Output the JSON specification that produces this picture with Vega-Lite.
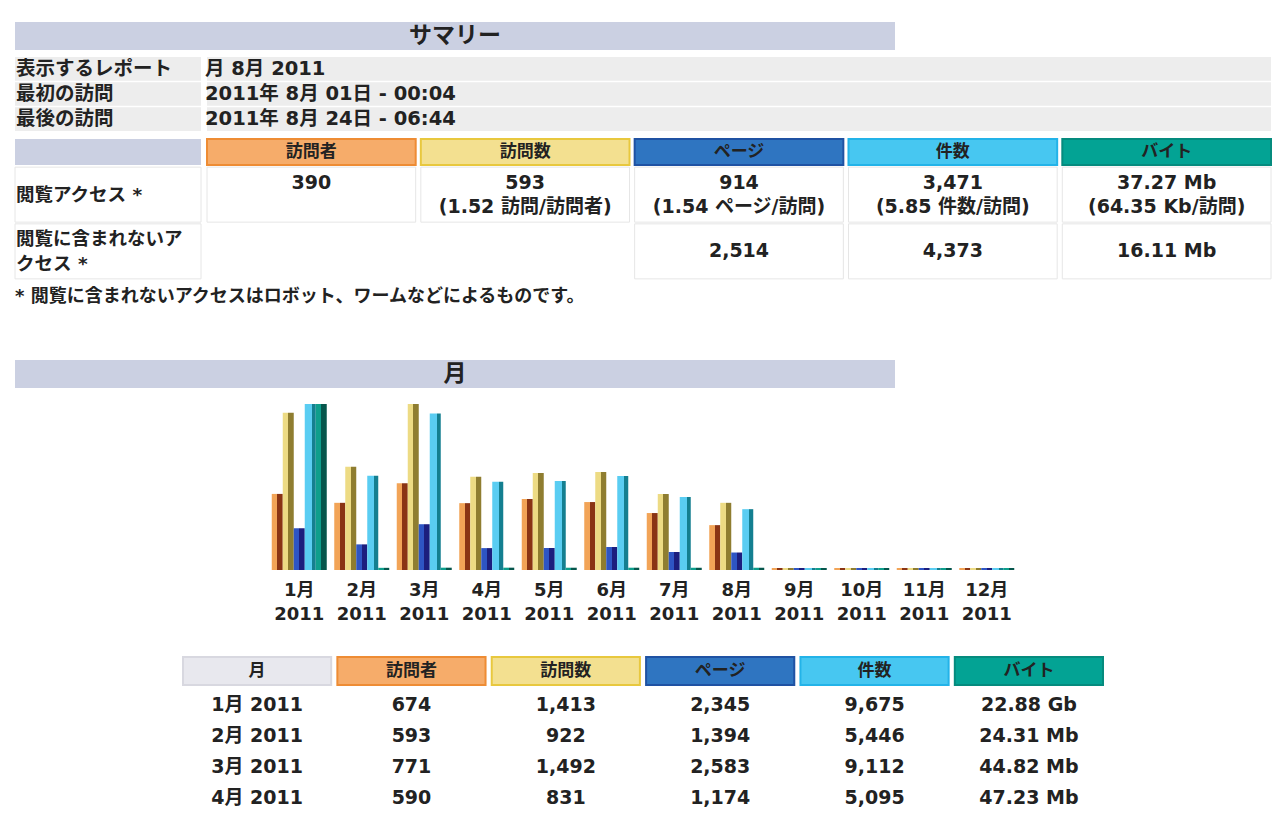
{
  "$schema": "https://vega.github.io/schema/vega-lite/v6.json",
  "background": "white",
  "padding": {"left": 14, "top": 22, "right": 0, "bottom": 0},
  "spacing": 0,
  "resolve": {"scale": {"fill": "independent", "stroke": "independent"}},
  "config": {
    "view": {"stroke": null},
    "font": "DejaVu Sans, Noto Sans CJK JP",
    "text": {"font": "DejaVu Sans, Noto Sans CJK JP", "fontWeight": "bold", "fontSize": 18, "color": "#222222"},
    "concat": {"spacing": 0}
  },
  "datasets": {
    "info": [
      {"r": "r1", "label": "表示するレポート", "value": "月 8月 2011"},
      {"r": "r2", "label": "最初の訪問", "value": "2011年 8月 01日 - 00:04"},
      {"r": "r3", "label": "最後の訪問", "value": "2011年 8月 24日 - 06:44"}
    ],
    "sumcols": [{"col": "訪問者"}, {"col": "訪問数"}, {"col": "ページ"}, {"col": "件数"}, {"col": "バイト"}],
    "sumrows": [
      {"r": "a", "label": "閲覧アクセス *"},
      {"r": "b", "label": "閲覧に含まれないア\nクセス *"}
    ],
    "sumvals": [
      {"r": "a", "col": "訪問者", "t": "390"},
      {"r": "a", "col": "訪問数", "t": "593\n(1.52 訪問/訪問者)"},
      {"r": "a", "col": "ページ", "t": "914\n(1.54 ページ/訪問)"},
      {"r": "a", "col": "件数", "t": "3,471\n(5.85 件数/訪問)"},
      {"r": "a", "col": "バイト", "t": "37.27 Mb\n(64.35 Kb/訪問)"},
      {"r": "b", "col": "ページ", "t": "2,514"},
      {"r": "b", "col": "件数", "t": "4,373"},
      {"r": "b", "col": "バイト", "t": "16.11 Mb"}
    ],
    "monthly": [
      {"m": "1月 2011", "metric": "訪問者", "v": 674}, {"m": "1月 2011", "metric": "訪問数", "v": 1413}, {"m": "1月 2011", "metric": "ページ", "v": 2345}, {"m": "1月 2011", "metric": "件数", "v": 9675}, {"m": "1月 2011", "metric": "バイト", "v": 23429},
      {"m": "2月 2011", "metric": "訪問者", "v": 593}, {"m": "2月 2011", "metric": "訪問数", "v": 922}, {"m": "2月 2011", "metric": "ページ", "v": 1394}, {"m": "2月 2011", "metric": "件数", "v": 5446}, {"m": "2月 2011", "metric": "バイト", "v": 24.31},
      {"m": "3月 2011", "metric": "訪問者", "v": 771}, {"m": "3月 2011", "metric": "訪問数", "v": 1492}, {"m": "3月 2011", "metric": "ページ", "v": 2583}, {"m": "3月 2011", "metric": "件数", "v": 9112}, {"m": "3月 2011", "metric": "バイト", "v": 44.82},
      {"m": "4月 2011", "metric": "訪問者", "v": 590}, {"m": "4月 2011", "metric": "訪問数", "v": 831}, {"m": "4月 2011", "metric": "ページ", "v": 1174}, {"m": "4月 2011", "metric": "件数", "v": 5095}, {"m": "4月 2011", "metric": "バイト", "v": 47.23},
      {"m": "5月 2011", "metric": "訪問者", "v": 628}, {"m": "5月 2011", "metric": "訪問数", "v": 864}, {"m": "5月 2011", "metric": "ページ", "v": 1180}, {"m": "5月 2011", "metric": "件数", "v": 5130}, {"m": "5月 2011", "metric": "バイト", "v": 40.5},
      {"m": "6月 2011", "metric": "訪問者", "v": 600}, {"m": "6月 2011", "metric": "訪問数", "v": 873}, {"m": "6月 2011", "metric": "ページ", "v": 1240}, {"m": "6月 2011", "metric": "件数", "v": 5430}, {"m": "6月 2011", "metric": "バイト", "v": 42.1},
      {"m": "7月 2011", "metric": "訪問者", "v": 500}, {"m": "7月 2011", "metric": "訪問数", "v": 673}, {"m": "7月 2011", "metric": "ページ", "v": 944}, {"m": "7月 2011", "metric": "件数", "v": 4190}, {"m": "7月 2011", "metric": "バイト", "v": 35.6},
      {"m": "8月 2011", "metric": "訪問者", "v": 390}, {"m": "8月 2011", "metric": "訪問数", "v": 593}, {"m": "8月 2011", "metric": "ページ", "v": 914}, {"m": "8月 2011", "metric": "件数", "v": 3471}, {"m": "8月 2011", "metric": "バイト", "v": 37.27},
      {"m": "9月 2011", "metric": "訪問者", "v": 0}, {"m": "9月 2011", "metric": "訪問数", "v": 0}, {"m": "9月 2011", "metric": "ページ", "v": 0}, {"m": "9月 2011", "metric": "件数", "v": 0}, {"m": "9月 2011", "metric": "バイト", "v": 0},
      {"m": "10月 2011", "metric": "訪問者", "v": 0}, {"m": "10月 2011", "metric": "訪問数", "v": 0}, {"m": "10月 2011", "metric": "ページ", "v": 0}, {"m": "10月 2011", "metric": "件数", "v": 0}, {"m": "10月 2011", "metric": "バイト", "v": 0},
      {"m": "11月 2011", "metric": "訪問者", "v": 0}, {"m": "11月 2011", "metric": "訪問数", "v": 0}, {"m": "11月 2011", "metric": "ページ", "v": 0}, {"m": "11月 2011", "metric": "件数", "v": 0}, {"m": "11月 2011", "metric": "バイト", "v": 0},
      {"m": "12月 2011", "metric": "訪問者", "v": 0}, {"m": "12月 2011", "metric": "訪問数", "v": 0}, {"m": "12月 2011", "metric": "ページ", "v": 0}, {"m": "12月 2011", "metric": "件数", "v": 0}, {"m": "12月 2011", "metric": "バイト", "v": 0}
    ],
    "tblcols": [{"col": "月"}, {"col": "訪問者"}, {"col": "訪問数"}, {"col": "ページ"}, {"col": "件数"}, {"col": "バイト"}],
    "tbl": [
      {"m": "1月 2011", "col": "月", "t": "1月 2011"}, {"m": "1月 2011", "col": "訪問者", "t": "674"}, {"m": "1月 2011", "col": "訪問数", "t": "1,413"}, {"m": "1月 2011", "col": "ページ", "t": "2,345"}, {"m": "1月 2011", "col": "件数", "t": "9,675"}, {"m": "1月 2011", "col": "バイト", "t": "22.88 Gb"},
      {"m": "2月 2011", "col": "月", "t": "2月 2011"}, {"m": "2月 2011", "col": "訪問者", "t": "593"}, {"m": "2月 2011", "col": "訪問数", "t": "922"}, {"m": "2月 2011", "col": "ページ", "t": "1,394"}, {"m": "2月 2011", "col": "件数", "t": "5,446"}, {"m": "2月 2011", "col": "バイト", "t": "24.31 Mb"},
      {"m": "3月 2011", "col": "月", "t": "3月 2011"}, {"m": "3月 2011", "col": "訪問者", "t": "771"}, {"m": "3月 2011", "col": "訪問数", "t": "1,492"}, {"m": "3月 2011", "col": "ページ", "t": "2,583"}, {"m": "3月 2011", "col": "件数", "t": "9,112"}, {"m": "3月 2011", "col": "バイト", "t": "44.82 Mb"},
      {"m": "4月 2011", "col": "月", "t": "4月 2011"}, {"m": "4月 2011", "col": "訪問者", "t": "590"}, {"m": "4月 2011", "col": "訪問数", "t": "831"}, {"m": "4月 2011", "col": "ページ", "t": "1,174"}, {"m": "4月 2011", "col": "件数", "t": "5,095"}, {"m": "4月 2011", "col": "バイト", "t": "47.23 Mb"}
    ]
  },
  "vconcat": [
    {
      "width": 880, "height": 28,
      "view": {"fill": "#CBD0E2"},
      "data": {"values": [{"title": "サマリー"}]},
      "mark": {"type": "text", "fontSize": 23},
      "encoding": {"text": {"field": "title"}}
    },
    {
      "bounds": "flush",
      "hconcat": [
        {
          "width": 186, "height": 88,
          "data": {"name": "info"},
          "encoding": {
            "y": {"field": "r", "type": "nominal", "axis": null, "scale": {"type": "band", "domain": ["r1", "r2", "r3"], "paddingInner": 0.06, "paddingOuter": 0.277}}
          },
          "layer": [
            {"mark": {"type": "rect", "color": "#EDEDED"},
             "encoding": {"x": {"datum": 0, "type": "quantitative", "scale": {"domain": [0, 1], "nice": false}, "axis": null}, "x2": {"datum": 1}}},
            {"mark": {"type": "text", "align": "left", "dx": 1, "fontSize": 19.5},
             "encoding": {"x": {"datum": 0, "type": "quantitative", "scale": {"domain": [0, 1], "nice": false}, "axis": null}, "text": {"field": "label"}}}
          ]
        },
        {
          "width": 1064, "height": 88,
          "data": {"name": "info"},
          "encoding": {
            "y": {"field": "r", "type": "nominal", "axis": null, "scale": {"type": "band", "domain": ["r1", "r2", "r3"], "paddingInner": 0.06, "paddingOuter": 0.277}}
          },
          "layer": [
            {"mark": {"type": "rect", "color": "#EDEDED"},
             "encoding": {"x": {"datum": 0, "type": "quantitative", "scale": {"domain": [0, 1], "nice": false}, "axis": null}, "x2": {"datum": 1}}},
            {"mark": {"type": "text", "align": "left", "dx": -2, "fontSize": 19.5},
             "encoding": {"x": {"datum": 0, "type": "quantitative", "scale": {"domain": [0, 1], "nice": false}, "axis": null}, "text": {"field": "value"}}}
          ]
        }
      ],
      "spacing": 6
    },
    {
      "bounds": "flush",
      "hconcat": [
        {
          "width": 186, "height": 26,
          "view": {"fill": "#CBD0E2"},
          "data": {"values": []},
          "mark": "text"
        },
        {
          "width": 1064, "height": 26,
          "data": {"name": "sumcols"},
          "encoding": {
            "x": {"field": "col", "type": "nominal", "axis": null, "scale": {"type": "band", "domain": ["訪問者", "訪問数", "ページ", "件数", "バイト"], "paddingInner": 0.024, "paddingOuter": 0}}
          },
          "layer": [
            {"mark": {"type": "rect", "strokeWidth": 2},
             "encoding": {
               "fill": {"field": "col", "type": "nominal", "legend": null, "scale": {"domain": ["訪問者", "訪問数", "ページ", "件数", "バイト"], "range": ["#F6AC6A", "#F3E090", "#2F75C1", "#47C7F1", "#03A394"]}},
               "stroke": {"field": "col", "type": "nominal", "legend": null, "scale": {"domain": ["訪問者", "訪問数", "ページ", "件数", "バイト"], "range": ["#EE8C34", "#E8C83E", "#1F52A3", "#23B3E8", "#058B7E"]}}
             }},
            {"mark": {"type": "text", "fontSize": 17}, "encoding": {"text": {"field": "col"}}}
          ]
        }
      ],
      "spacing": 6
    },
    {
      "bounds": "flush",
      "hconcat": [
        {
          "width": 186, "height": 114,
          "data": {"name": "sumrows"},
          "encoding": {
            "y": {"field": "r", "type": "nominal", "axis": null, "scale": {"type": "band", "domain": ["a", "b"], "paddingInner": 0.03, "paddingOuter": 0.02}},
            "x": {"datum": 0, "type": "quantitative", "scale": {"domain": [0, 1], "nice": false}, "axis": null}
          },
          "layer": [
            {"mark": {"type": "rect", "fill": "#FFFFFF", "stroke": "#E6E6E6"},
             "encoding": {"x2": {"datum": 1}}},
            {"transform": [{"filter": "datum.r === 'a'"}],
             "mark": {"type": "text", "align": "left", "dx": 1, "fontSize": 18.5},
             "encoding": {"text": {"field": "label"}}},
            {"transform": [{"filter": "datum.r === 'b'"}],
             "mark": {"type": "text", "align": "left", "dx": 1, "dy": -12.5, "lineBreak": "\n", "lineHeight": 25, "fontSize": 18.5},
             "encoding": {"text": {"field": "label"}}}
          ]
        },
        {
          "width": 1064, "height": 114,
          "data": {"name": "sumvals"},
          "encoding": {
            "x": {"field": "col", "type": "nominal", "axis": null, "scale": {"type": "band", "domain": ["訪問者", "訪問数", "ページ", "件数", "バイト"], "paddingInner": 0.024, "paddingOuter": 0}},
            "y": {"field": "r", "type": "nominal", "axis": null, "scale": {"type": "band", "domain": ["a", "b"], "paddingInner": 0.03, "paddingOuter": 0.02}}
          },
          "layer": [
            {"mark": {"type": "rect", "fill": "#FFFFFF", "stroke": "#E6E6E6"}},
            {"transform": [{"filter": "datum.r === 'a'"}],
             "mark": {"type": "text", "dy": -12, "lineBreak": "\n", "lineHeight": 24, "fontSize": 19}, "encoding": {"text": {"field": "t"}}},
            {"transform": [{"filter": "datum.r === 'b'"}],
             "mark": {"type": "text", "fontSize": 19}, "encoding": {"text": {"field": "t"}}}
          ]
        }
      ],
      "spacing": 6
    },
    {
      "bounds": "flush",
      "vconcat": [
        {
          "width": 1256, "height": 34,
          "data": {"values": [{"note": "* 閲覧に含まれないアクセスはロボット、ワームなどによるものです。"}]},
          "mark": {"type": "text", "align": "left", "fontSize": 18},
          "encoding": {
            "x": {"datum": 0, "type": "quantitative", "scale": {"domain": [0, 1], "nice": false}, "axis": null},
            "text": {"field": "note"}
          }
        },
        {
          "width": 880, "height": 28,
          "view": {"fill": "#CBD0E2"},
          "data": {"values": [{"title": "月"}]},
          "mark": {"type": "text", "fontSize": 23},
          "encoding": {"text": {"field": "title"}}
        }
      ],
      "spacing": 46
    },
    {
      "center": true,
      "bounds": "flush",
      "spacing": 0,
      "vconcat": [
        {"width": 1256, "height": 16, "data": {"values": []}, "mark": "text"},
        {
          "width": 750, "height": 164,
          "data": {"name": "monthly"},
          "encoding": {
            "x": {"field": "m", "type": "nominal",
                  "scale": {"domain": ["1月 2011", "2月 2011", "3月 2011", "4月 2011", "5月 2011", "6月 2011", "7月 2011", "8月 2011", "9月 2011", "10月 2011", "11月 2011", "12月 2011"], "paddingInner": 0.12, "paddingOuter": 0.06},
                  "axis": {"title": null, "domain": false, "ticks": false, "labelAngle": 0, "labelFont": "DejaVu Sans, Noto Sans CJK JP", "labelFontSize": 18, "labelFontWeight": "bold", "labelColor": "#222222", "labelPadding": 13, "labelLineHeight": 24, "labelExpr": "split(datum.label, ' ')"}},
            "xOffset": {"field": "metric", "type": "nominal", "scale": {"domain": ["訪問者", "訪問数", "ページ", "件数", "バイト"], "paddingInner": 0, "paddingOuter": 0}},
            "y2": {"datum": 0}
          },
          "layer": [
            {"transform": [{"filter": "datum.metric === '訪問者'"}],
             "mark": {"type": "bar", "y2Offset": 2, "fill": {"gradient": "linear", "x1": 0, "y1": 0, "x2": 1, "y2": 0, "stops": [{"offset": 0, "color": "#F2A457"}, {"offset": 0.5, "color": "#F2A457"}, {"offset": 0.5, "color": "#8A3414"}, {"offset": 1, "color": "#8A3414"}]}},
             "encoding": {"y": {"field": "v", "type": "quantitative", "axis": null, "scale": {"domain": [0, 1492], "nice": false}}}},
            {"transform": [{"filter": "datum.metric === '訪問数'"}],
             "mark": {"type": "bar", "y2Offset": 2, "fill": {"gradient": "linear", "x1": 0, "y1": 0, "x2": 1, "y2": 0, "stops": [{"offset": 0, "color": "#EDDB84"}, {"offset": 0.5, "color": "#EDDB84"}, {"offset": 0.5, "color": "#8F7D30"}, {"offset": 1, "color": "#8F7D30"}]}},
             "encoding": {"y": {"field": "v", "type": "quantitative", "axis": null, "scale": {"domain": [0, 1492], "nice": false}}}},
            {"transform": [{"filter": "datum.metric === 'ページ'"}],
             "mark": {"type": "bar", "y2Offset": 2, "fill": {"gradient": "linear", "x1": 0, "y1": 0, "x2": 1, "y2": 0, "stops": [{"offset": 0, "color": "#2E55C4"}, {"offset": 0.5, "color": "#2E55C4"}, {"offset": 0.5, "color": "#1C1E7E"}, {"offset": 1, "color": "#1C1E7E"}]}},
             "encoding": {"y": {"field": "v", "type": "quantitative", "axis": null, "scale": {"domain": [0, 9675], "nice": false}}}},
            {"transform": [{"filter": "datum.metric === '件数'"}],
             "mark": {"type": "bar", "y2Offset": 2, "fill": {"gradient": "linear", "x1": 0, "y1": 0, "x2": 1, "y2": 0, "stops": [{"offset": 0, "color": "#5ACDF2"}, {"offset": 0.62, "color": "#5ACDF2"}, {"offset": 0.62, "color": "#147F90"}, {"offset": 1, "color": "#147F90"}]}},
             "encoding": {"y": {"field": "v", "type": "quantitative", "axis": null, "scale": {"domain": [0, 9675], "nice": false}}}},
            {"transform": [{"filter": "datum.metric === 'バイト'"}],
             "mark": {"type": "bar", "y2Offset": 2, "fill": {"gradient": "linear", "x1": 0, "y1": 0, "x2": 1, "y2": 0, "stops": [{"offset": 0, "color": "#0E9E8C"}, {"offset": 0.5, "color": "#0E9E8C"}, {"offset": 0.5, "color": "#06564C"}, {"offset": 1, "color": "#06564C"}]}},
             "encoding": {"y": {"field": "v", "type": "quantitative", "axis": null, "scale": {"domain": [0, 23429], "nice": false}}}}
          ],
          "resolve": {"scale": {"y": "independent"}}
        },
        {"width": 1256, "height": 89, "data": {"values": []}, "mark": "text"},
        {
          "width": 920, "height": 28,
          "data": {"name": "tblcols"},
          "encoding": {
            "x": {"field": "col", "type": "nominal", "axis": null, "scale": {"type": "band", "domain": ["月", "訪問者", "訪問数", "ページ", "件数", "バイト"], "paddingInner": 0.04, "paddingOuter": 0}}
          },
          "layer": [
            {"mark": {"type": "rect", "strokeWidth": 2},
             "encoding": {
               "fill": {"field": "col", "type": "nominal", "legend": null, "scale": {"domain": ["月", "訪問者", "訪問数", "ページ", "件数", "バイト"], "range": ["#E8E8EE", "#F6AC6A", "#F3E090", "#2F75C1", "#47C7F1", "#03A394"]}},
               "stroke": {"field": "col", "type": "nominal", "legend": null, "scale": {"domain": ["月", "訪問者", "訪問数", "ページ", "件数", "バイト"], "range": ["#D8D8E0", "#EE8C34", "#E8C83E", "#1F52A3", "#23B3E8", "#058B7E"]}}
             }},
            {"mark": {"type": "text", "fontSize": 17}, "encoding": {"text": {"field": "col"}}}
          ]
        },
        {
          "width": 920, "height": 133,
          "data": {"name": "tbl"},
          "mark": {"type": "text", "fontSize": 19},
          "encoding": {
            "x": {"field": "col", "type": "nominal", "axis": null, "scale": {"type": "band", "domain": ["月", "訪問者", "訪問数", "ページ", "件数", "バイト"], "paddingInner": 0.04, "paddingOuter": 0}},
            "y": {"field": "m", "type": "nominal", "axis": null, "scale": {"type": "band", "domain": ["1月 2011", "2月 2011", "3月 2011", "4月 2011"], "paddingInner": 0, "paddingOuter": 0.145}},
            "text": {"field": "t"}
          }
        }
      ],
      "resolve": {"scale": {"fill": "independent", "stroke": "independent"}}
    }
  ]
}
